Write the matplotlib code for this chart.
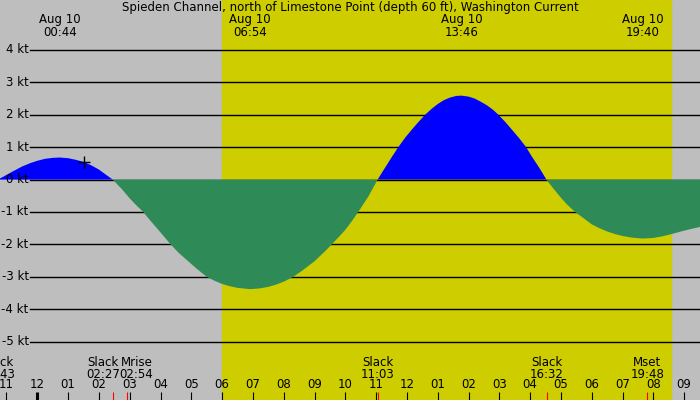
import matplotlib
matplotlib.use('Agg')
import matplotlib.pyplot as plt
from matplotlib.transforms import offset_copy

# ------------------------------------------------------------
# Data (hours from midnight Aug 10, knots)
# ------------------------------------------------------------
title = 'Spieden Channel, north of Limestone Point (depth 60 ft), Washington Current'

hours = [-1.283, -1.1, -0.8, -0.5, -0.25, 0.0, 0.25, 0.5, 0.733, 1.0,
         1.25, 1.52, 1.75, 2.0, 2.2, 2.45,
         2.75, 3.0, 3.2, 3.44, 3.7, 4.0, 4.33, 4.6, 4.9, 5.2,
         5.5, 5.75, 6.0, 6.25, 6.5, 6.9, 7.2, 7.5, 7.75, 8.0,
         8.31, 8.6, 9.0, 9.3, 9.56, 9.8, 10.0, 10.2, 10.42, 10.75, 11.05,
         11.3, 11.5, 11.72, 11.95, 12.15, 12.35, 12.59, 12.8, 13.0, 13.2,
         13.4, 13.6, 13.77, 14.0, 14.2, 14.4, 14.6, 14.8, 14.97, 15.2,
         15.4, 15.65, 15.87, 16.05, 16.3, 16.53,
         16.75, 17.0, 17.2, 17.46, 17.75, 18.0, 18.25, 18.5, 18.75, 19.0,
         19.3, 19.67, 20.0, 20.3, 20.6, 20.9, 21.2, 21.52]
speed = [0.00, 0.09, 0.25, 0.40, 0.50, 0.58, 0.64, 0.67, 0.68, 0.66,
         0.61, 0.54, 0.44, 0.31, 0.17, 0.00,
         -0.30, -0.58, -0.78, -1.00, -1.30, -1.63, -2.00, -2.27, -2.52, -2.77,
         -3.00, -3.12, -3.22, -3.29, -3.34, -3.38, -3.36, -3.31, -3.24, -3.15,
         -3.00, -2.81, -2.52, -2.25, -2.00, -1.76, -1.55, -1.30, -1.00, -0.52, 0.00,
         0.38, 0.68, 1.00, 1.30, 1.53, 1.75, 2.00, 2.18, 2.33, 2.45,
         2.53, 2.58, 2.59, 2.56, 2.50, 2.40, 2.29, 2.15, 2.00, 1.77,
         1.55, 1.27, 1.00, 0.72, 0.36, 0.00,
         -0.27, -0.56, -0.77, -1.00, -1.20, -1.38, -1.50, -1.60, -1.68, -1.74,
         -1.79, -1.82, -1.80, -1.75, -1.68, -1.60, -1.53, -1.46]

# max flood / ebb labels along the top
max_hours = [0.733, 6.9, 13.767, 19.667]
max_dates = ['Aug 10', 'Aug 10', 'Aug 10', 'Aug 10']
max_clock = ['00:44', '06:54', '13:46', '19:40']

# slack / moon events along the bottom
event_hours = [-1.283, 2.45, 2.9, 11.05, 16.533, 19.8]
event_names = ['Slack', 'Slack', 'Mrise', 'Slack', 'Slack', 'Mset']
event_clock = ['22:43', '02:27', '02:54', '11:03', '16:32', '19:48']

sunrise, sunset = 6.0, 20.57
now_hour, now_speed = 1.52, 0.54

grid_kt = [4, 3, 2, 1, 0, -1, -2, -3, -4, -5]
tick_hours = list(range(-1, 22))
tick_labels = ['11', '12', '01', '02', '03', '04', '05', '06', '07', '08', '09', '10',
               '11', '12', '01', '02', '03', '04', '05', '06', '07', '08', '09']

# ------------------------------------------------------------
# Plot
# ------------------------------------------------------------
GRAY = '#bebebe'
DAY = '#cdcd00'
FS = 8.5

fig = plt.figure(figsize=(7, 4), dpi=100, facecolor=GRAY)
ax = fig.add_axes([0, 0, 1, 1])
ax.set_xlim(-1.211, 21.516)
ax.set_ylim(-6.80, 5.54)
ax.set_axis_off()

ax.axvspan(sunrise, sunset, color=DAY, zorder=1)

for k in grid_kt:
    ax.axhline(k, xmin=30 / 700, xmax=1, color='black', lw=1.0, zorder=2)
    ax.text(-0.28, k, f'{k} kt', ha='right', va='center', fontsize=FS, zorder=5)

ax.fill_between(hours, speed, 0, where=[v >= 0 for v in speed], interpolate=True,
                color='#0000ff', lw=0, zorder=3)
ax.fill_between(hours, speed, 0, where=[v <= 0 for v in speed], interpolate=True,
                color='#2e8b57', lw=0, zorder=3)

ax.plot(now_hour, now_speed, marker='+', ms=9, mew=1.0, color='black', zorder=4)

xt = ax.get_xaxis_transform()
ax.text(10.15, 1 - 7.5 / 400, title, transform=xt,
        ha='center', va='center', fontsize=FS)

for h, d, c in zip(max_hours, max_dates, max_clock):
    ax.text(h, 1 - 20 / 400, d, transform=xt, ha='center', va='center', fontsize=FS)
    ax.text(h, 1 - 32 / 400, c, transform=xt, ha='center', va='center', fontsize=FS)

# bottom hour ticks
for h, lab in zip(tick_hours, tick_labels):
    ax.plot([h, h], [0, 8 / 400], transform=xt, color='black',
            lw=2.2 if h == 0 else 0.8, solid_capstyle='butt', zorder=5)
    ax.text(h, 15 / 400, lab, transform=xt, ha='center', va='center', fontsize=FS)

# event ticks and labels (overlapping labels nudged apart, in pixels)
nudge = [0, -10, 10, 0, 0, 0]
for h, n, c, dx in zip(event_hours, event_names, event_clock, nudge):
    ax.plot([h, h], [0, 8 / 400], transform=xt, color='red', lw=0.8,
            solid_capstyle='butt', zorder=6)
    tr = offset_copy(xt, fig=fig, x=dx, y=0, units='dots')
    ax.text(h, 1 - 362 / 400, n, transform=tr, ha='center', va='center', fontsize=FS)
    ax.text(h, 1 - 374 / 400, c, transform=tr, ha='center', va='center', fontsize=FS)

fig.savefig('out.png', dpi=100, facecolor=GRAY)
